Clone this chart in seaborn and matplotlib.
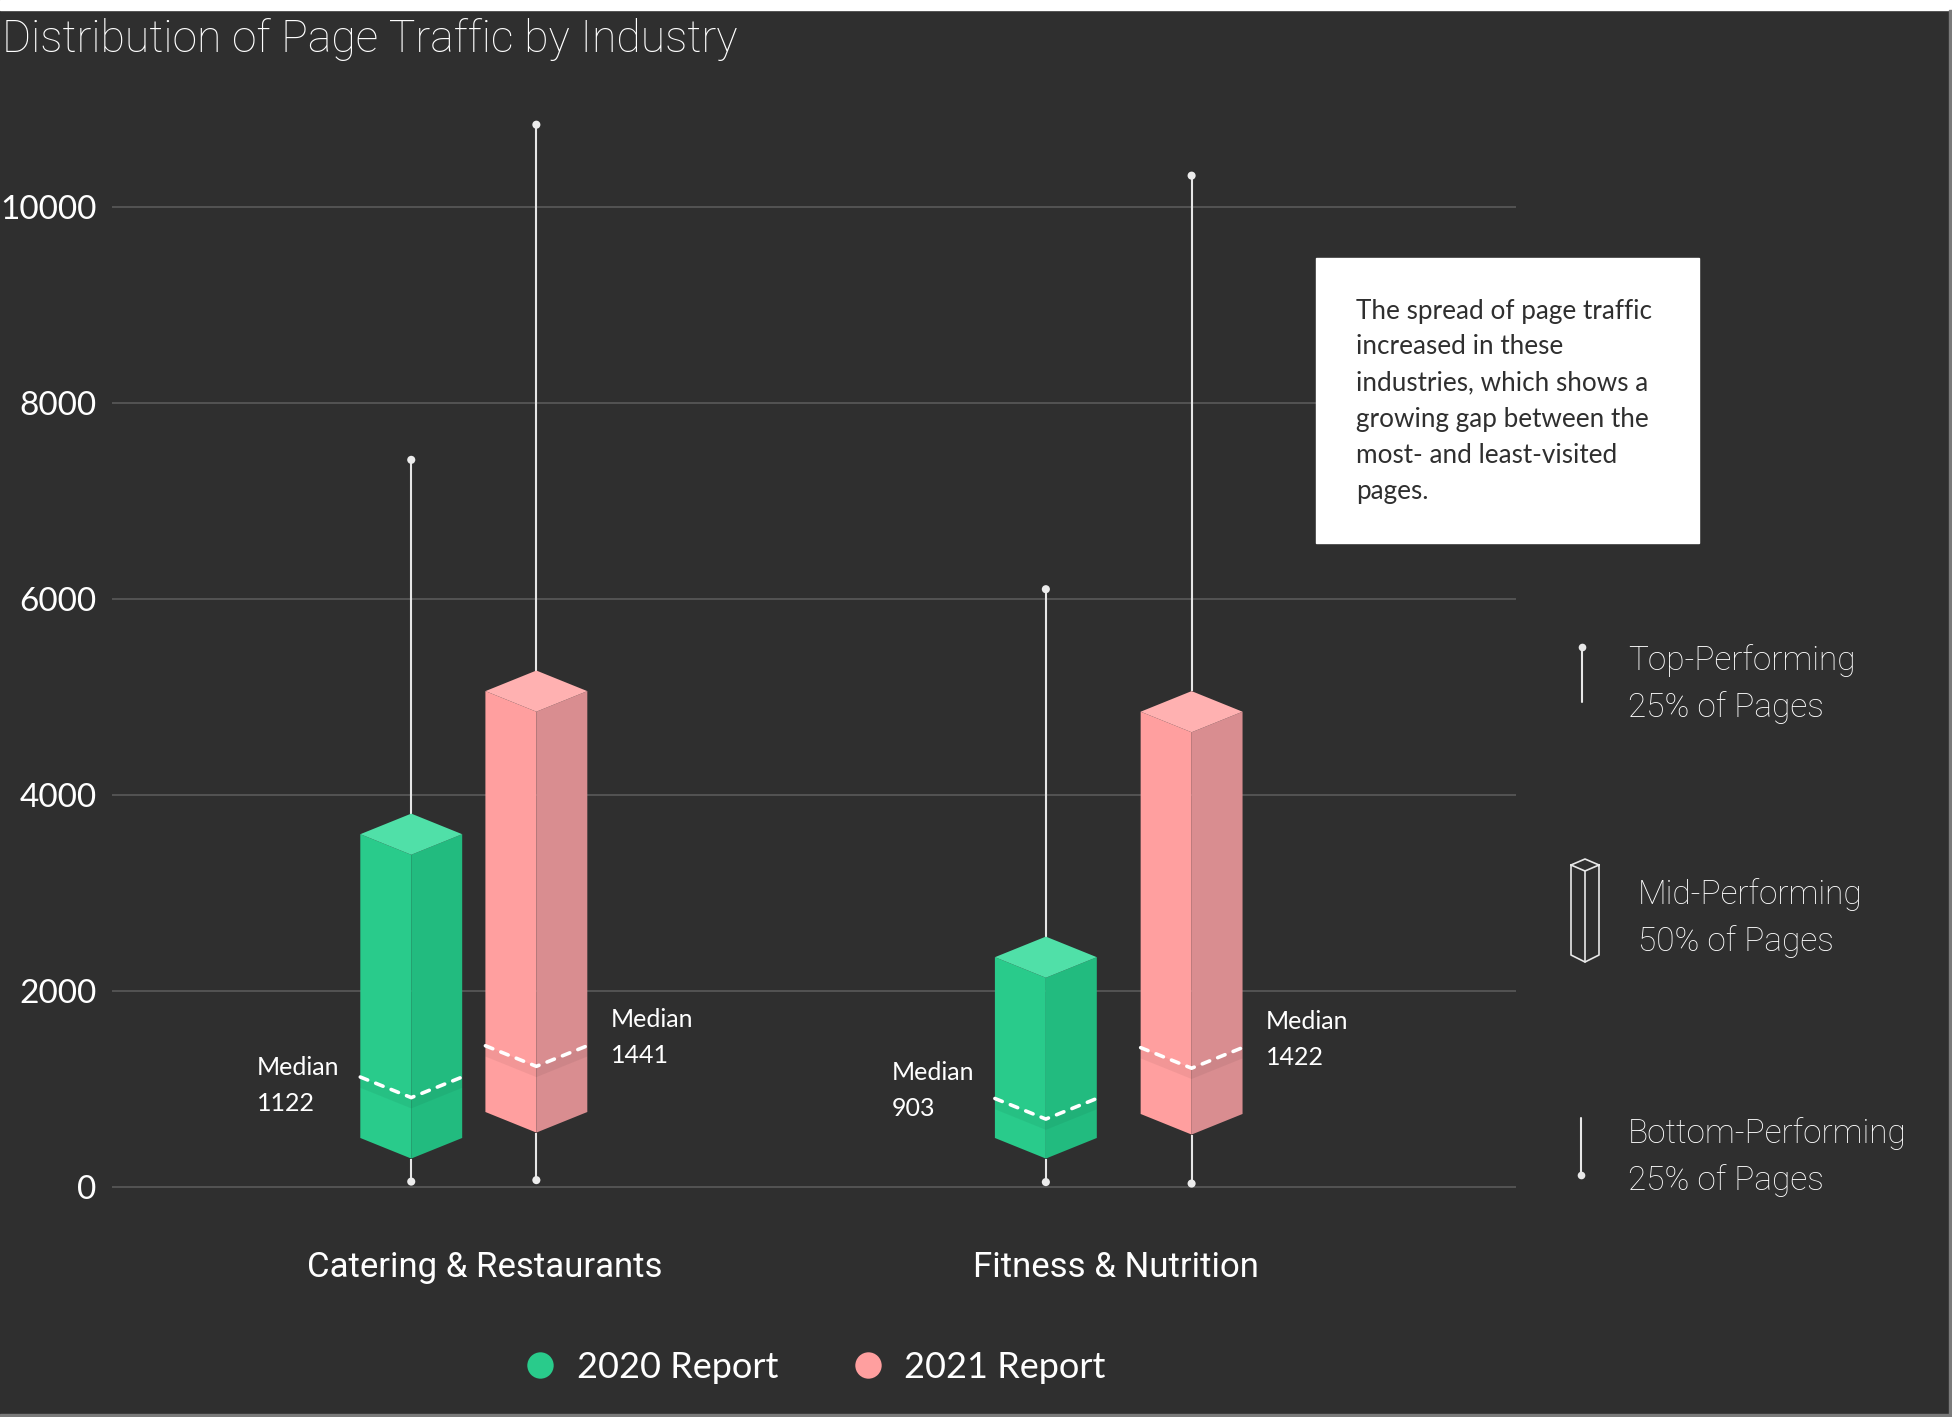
import numpy as np
import pandas as pd
import matplotlib
matplotlib.use("Agg")
import matplotlib.pyplot as plt
from matplotlib.patches import Polygon, Rectangle
from matplotlib.lines import Line2D
import seaborn as sns

# data
industries = ["Catering & Restaurants", "Fitness & Nutrition"]
reports = ["2020 Report", "2021 Report"]
top_values = [[7420, 10840], [6100, 10320]]
q3_values = [[3600, 5060], [2345, 4850]]
median_values = [[1122, 1441], [903, 1422]]
q1_values = [[500, 765], [500, 745]]
bottom_values = [[55, 70], [50, 35]]

title = "Distribution of Page Traffic by Industry"
note_lines = [
    "The spread of page traffic",
    "increased in these",
    "industries, which shows a",
    "growing gap between the",
    "most- and least-visited",
    "pages.",
]
key_labels = [
    "Top-Performing\n25% of Pages",
    "Mid-Performing\n50% of Pages",
    "Bottom-Performing\n25% of Pages",
]

# colours: (left face, right face, top face)
faces = {
    "2020 Report": ("#29cb8b", "#22bb7f", "#50e0a8"),
    "2021 Report": ("#ff9f9f", "#d98d90", "#ffb1b1"),
}
BG = "#2f2f2f"
W, H = 1952, 1417

sns.set_theme(style="dark", rc={
    "axes.facecolor": BG,
    "figure.facecolor": BG,
    "axes.edgecolor": BG,
    "text.color": "white",
    "xtick.color": "white",
    "ytick.color": "white",
})
plt.rcParams["font.family"] = ["Lato", "DejaVu Sans"]
narrow = ["Roboto", "DejaVu Sans"]


def px(x, y):
    """pixel position (top-left origin) -> figure fraction"""
    return x / W, 1 - y / H


# long table for the boxes
rows = []
dodge = [0.097, 0.113]
label_shift = [[-6, 6], [6, 6]]   # vertical nudge of the median labels (pt)
for i, ind in enumerate(industries):
    for j, rep in enumerate(reports):
        rows.append({
            "industry": ind, "report": rep,
            "x": i + (dodge[i] if j else -dodge[i]),
            "lo": bottom_values[i][j], "q1": q1_values[i][j],
            "med": median_values[i][j], "q3": q3_values[i][j],
            "hi": top_values[i][j], "shift": label_shift[i][j],
        })
df = pd.DataFrame(rows)

fig = plt.figure(figsize=(W / 100, H / 100), dpi=100)
fig.add_artist(Rectangle((0, 1 - 10 / H), 1, 10 / H, transform=fig.transFigure,
                         color="white", zorder=-5))
fig.add_artist(Rectangle((1 - 3 / W, 0), 3 / W, 1 - 10 / H, transform=fig.transFigure,
                         color="#7a7a7a", zorder=-5))
fig.add_artist(Rectangle((0, 0), 1, 3 / H, transform=fig.transFigure,
                         color="#7a7a7a", zorder=-5))

ax = fig.add_axes([112 / W, (H - 1230) / H, 1404 / W, 1140 / H])
ax.set_xlim(-0.561, 1.616)
ax.set_ylim(-439, 11194)

hw = 0.079   # half width of a prism (x units)
dp = 210     # isometric depth (y units)

for _, r in df.iterrows():
    x, lo, q1, med, q3, hi = r["x"], r["lo"], r["q1"], r["med"], r["q3"], r["hi"]
    left_c, right_c, top_c = faces[r["report"]]
    # whiskers
    ax.vlines(x, q3 + dp, hi, color="#e6e6e6", lw=1.5, zorder=2)
    ax.vlines(x, lo, q1 - dp, color="#e6e6e6", lw=1.5, zorder=2)
    # faces
    ax.add_patch(Polygon([(x - hw, q3), (x, q3 - dp), (x, q1 - dp), (x - hw, q1)],
                         closed=True, fc=left_c, ec="none", zorder=3))
    ax.add_patch(Polygon([(x, q3 - dp), (x + hw, q3), (x + hw, q1), (x, q1 - dp)],
                         closed=True, fc=right_c, ec="none", zorder=3))
    ax.add_patch(Polygon([(x - hw, q3), (x, q3 - dp), (x + hw, q3), (x, q3 + dp)],
                         closed=True, fc=top_c, ec="none", zorder=3))
    # faint shade under the median
    ax.add_patch(Polygon([(x - hw, med), (x, med - dp), (x + hw, med),
                          (x + hw, med - 110), (x, med - dp - 110), (x - hw, med - 110)],
                         closed=True, fc="black", alpha=0.05, ec="none", zorder=4))
    ax.plot([x - hw, x, x + hw], [med, med - dp, med], color="white", lw=2.6,
            ls=(0, (2.2, 2.4)), dash_capstyle="round", zorder=5)

# whisker end dots
ends = pd.concat([df[["x", "lo"]].rename(columns={"lo": "v"}),
                  df[["x", "hi"]].rename(columns={"hi": "v"})])
sns.scatterplot(data=ends, x="x", y="v", color="#ececec", s=34, edgecolor="none",
                legend=False, ax=ax, zorder=6)

# median labels
for _, r in df.iterrows():
    lbl = f"Median\n{r['med']}"
    if r["report"] == reports[0]:
        ax.annotate(lbl, (r["x"] - hw, r["med"]), xytext=(-15, r["shift"]),
                    textcoords="offset points", ha="right", va="center",
                    multialignment="left", fontsize=18, color="white", linespacing=1.7)
    else:
        ax.annotate(lbl, (r["x"] + hw, r["med"]), xytext=(17, r["shift"]),
                    textcoords="offset points", ha="left", va="center",
                    multialignment="left", fontsize=18, color="white", linespacing=1.7)

ax.set_yticks(range(0, 10001, 2000))
ax.set_xticks([0.017, 0.995])
ax.set_xticklabels(industries, fontsize=25, family=narrow)
ax.grid(axis="y", color="#565656", lw=1.3)
ax.grid(axis="x", visible=False)
ax.set_axisbelow(True)
ax.tick_params(axis="y", length=0, labelsize=24, pad=11)
ax.tick_params(axis="x", length=0, pad=15)
for t in ax.get_yticklabels():
    t.set_y(t.get_position()[1])
    t.set_va("center_baseline")
ax.set_xlabel("")
ax.set_ylabel("")
for s in ax.spines.values():
    s.set_visible(False)

# title
fig.text(*px(2, 52), title, fontsize=32, family=narrow, fontweight="light",
         color="white", ha="left", va="baseline")

# note box
fig.add_artist(Rectangle(px(1316, 543), 383 / W, 285 / H, transform=fig.transFigure,
                         color="white", zorder=1))
for k, line in enumerate(note_lines):
    fig.text(*px(1356, 311 + 36 * k), line, fontsize=18.8, color="#2f2f2f",
             ha="left", va="center", zorder=2)

# right-hand key
kc = "#e8e8e8"
fig.add_artist(Line2D([1582 / W] * 2, [px(0, 647)[1], px(0, 702)[1]],
                      transform=fig.transFigure, color=kc, lw=1.5))
fig.add_artist(Line2D([1582 / W], [px(0, 647)[1]], transform=fig.transFigure,
                      marker="o", ms=5.5, color=kc, mec="none"))
fig.add_artist(Line2D([1581 / W] * 2, [px(0, 1118)[1], px(0, 1175)[1]],
                      transform=fig.transFigure, color=kc, lw=1.5))
fig.add_artist(Line2D([1581 / W], [px(0, 1175)[1]], transform=fig.transFigure,
                      marker="o", ms=5.5, color=kc, mec="none"))
outline = [(1571, 865), (1585, 859), (1599, 865), (1599, 955), (1585, 962),
           (1571, 955), (1571, 865), (1585, 871), (1599, 865)]
fig.add_artist(Line2D([p[0] / W for p in outline], [px(0, p[1])[1] for p in outline],
                      transform=fig.transFigure, color=kc, lw=1.2))
fig.add_artist(Line2D([1585 / W] * 2, [px(0, 871)[1], px(0, 962)[1]],
                      transform=fig.transFigure, color=kc, lw=1.2))
for (x0, y0), lbl in zip([(1628, 684), (1638, 918), (1628, 1157)], key_labels):
    fig.text(*px(x0, y0), lbl, fontsize=24, family=narrow, fontweight="light",
             color="white", ha="left", va="center", linespacing=1.55)

# bottom legend
handles = [Line2D([], [], ls="none", marker="o", ms=19, mec="none",
                  mfc=faces[rep][0]) for rep in reports]
fig.legend(handles, reports, loc="center", bbox_to_anchor=px(814, 1367), ncol=2,
           frameon=False, fontsize=26, labelcolor="white", handlelength=1.0,
           handletextpad=0.5, columnspacing=2.0)

fig.savefig("out.png", dpi=100, facecolor=fig.get_facecolor())
